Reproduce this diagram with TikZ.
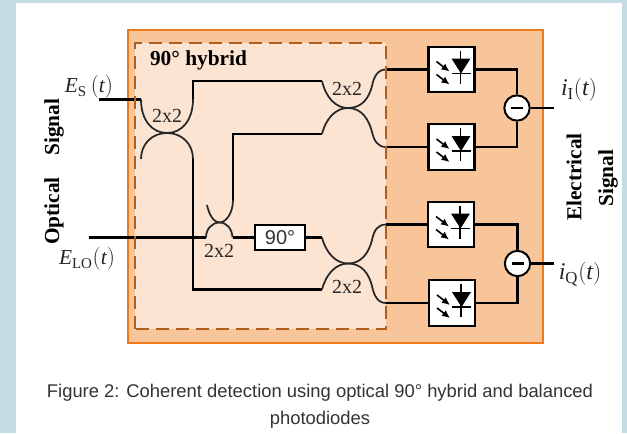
\documentclass[tikz,border=0pt]{standalone}
\usepackage{fontspec}
\setmainfont{Liberation Serif}
\newfontfamily\capfont{Liberation Sans}
\usetikzlibrary{arrows.meta}
\definecolor{bgblue}{HTML}{C5DBE3}
\definecolor{outerfill}{HTML}{F8C49A}
\definecolor{outerline}{HTML}{EE7A1C}
\definecolor{innerfill}{HTML}{FCE4D3}
\definecolor{innerline}{HTML}{B05E1E}
\tikzset{
  x=0.75pt,y=-0.75pt,
  fiber/.style={draw=black,line width=1.7pt},
  coupler/.style={draw=black!85,line width=1.3pt},
  detbox/.style={draw=black,fill=white,line width=1.7pt,minimum width=34.5pt,minimum height=34pt,inner sep=0pt},
  shifter/.style={draw=black,fill=white,line width=1.7pt,minimum width=38pt,minimum height=19pt,inner sep=0pt,font=\capfont\fontsize{15}{16}\selectfont,text=black!80},
  subtractor/.style={circle,draw=black,fill=white,line width=1.5pt,minimum size=19pt,inner sep=0pt},
  lab/.style={inner sep=0pt,font=\fontsize{15}{16}\selectfont,text=black!85},
  mathlab/.style={inner sep=0pt,font=\fontsize{16}{18}\selectfont,text=black!85},
  bigmath/.style={inner sep=0pt,font=\fontsize{18}{20}\selectfont,text=black!85},
  side/.style={inner sep=0pt,rotate=90,font=\bfseries\fontsize{16}{18}\selectfont},
  caption/.style={inner sep=0pt,font=\capfont\fontsize{13.8}{15}\selectfont,text=black!80},
}
\newcommand{\detsym}[1]{%
  \begin{scope}[shift={(#1)}]
    \draw[black,line width=1.3pt] (9,-19) -- (9,14);
    \draw[black,line width=1.3pt] (0,4) -- (19,4);
    \fill[black] (0,-11) -- (19,-11) -- (9.5,4) -- cycle;
    \draw[black,line width=1.2pt,-{Latex[length=6pt,width=5.5pt]}] (-15,-8) -- (-2,2);
    \draw[black,line width=1.2pt,-{Latex[length=6pt,width=5.5pt]}] (-15,5) -- (-2,15);
  \end{scope}}
\begin{document}
\begin{tikzpicture}
\useasboundingbox (0,0) rectangle (627,433);
\fill[bgblue] (0,0) rectangle (627,433);
\fill[white] (16,3) rectangle (622,433);
% enclosures
\draw[draw=outerline,fill=outerfill,line width=1.5pt] (128,30) rectangle (543,343);
\fill[innerfill] (135,43) rectangle (386,329);
% couplers ports
\coordinate (sin) at (99,99.5);
\coordinate (c1tl) at (141,99.5);
\coordinate (c1tr) at (193,81);
\coordinate (c1br) at (193,289.5);
\coordinate (c2a) at (322,81);
\coordinate (c2b) at (322,134);
\coordinate (c3tl) at (233,134);
\coordinate (loin) at (89,237.5);
\coordinate (c4a) at (322,237.5);
\coordinate (c4b) at (322,289.5);
\node[detbox] (d1) at (451.5,69.5) {};
\node[detbox] (d2) at (451.5,147) {};
\node[detbox] (d3) at (451,224.5) {};
\node[detbox] (d4) at (452,303) {};
\node[shifter] (ps) at (280,237.5) {90°};
\node[subtractor] (s1) at (517,108) {};
\node[subtractor] (s2) at (517.5,263.5) {};
\coordinate (o1) at (554,108);
\coordinate (o2) at (554,263.5);
% wiring
\draw[fiber] (sin) -- (c1tl);
\draw[coupler] (c1tl) .. controls (141,120) and (152,133) .. (167,133) .. controls (182,133) and (193,120) .. (193,99);
\draw[fiber] (193,99) -- (c1tr) -- (c2a);
\draw[coupler] (141,159) .. controls (141,144) and (152,133) .. (167,133) .. controls (182,133) and (193,144) .. (193,159);
\draw[fiber] (193,159) -- (c1br) -- (c4b);
\draw[fiber] (c2b) -- (c3tl) -- (233,200);
\draw[coupler] (207,205) .. controls (209,215) and (214,222.5) .. (219.5,222.5) .. controls (226,222.5) and (233,213) .. (233,200);
\draw[fiber] (loin) -- (206,237.5);
\draw[coupler] (206,237.5) .. controls (206,229) and (212,222.5) .. (219.5,222.5) .. controls (227,222.5) and (232,229) .. (232.5,237.5);
\draw[fiber] (232.5,237.5) -- (ps.west);
\draw[fiber] (ps.east) -- (c4a);
% right couplers
\draw[coupler] (c2a) .. controls (326,98) and (336,108) .. (348,108) .. controls (362,108) and (369,98) .. (372,86) .. controls (374,76) and (378,69.5) .. (386,69.5);
\draw[coupler] (c2b) .. controls (326,118) and (336,108) .. (348,108) .. controls (362,108) and (369,120) .. (372,132) .. controls (374,141) and (378,147) .. (386,147);
\draw[coupler] (c4a) .. controls (326,253) and (336,263.5) .. (348,263.5) .. controls (362,263.5) and (369,252) .. (372,240) .. controls (374,230) and (378,224.5) .. (386,224.5);
\draw[coupler] (c4b) .. controls (326,274) and (336,263.5) .. (348,263.5) .. controls (362,263.5) and (369,274) .. (372,286) .. controls (374,296) and (378,303) .. (386,303);
\draw[fiber] (386,69.5) -- (d1.west);
\draw[fiber] (386,147) -- (d2.west);
\draw[fiber] (386,224.5) -- (d3.west);
\draw[fiber] (386,303) -- (d4.west);
\draw[fiber] (d1.east) -- (s1.north |- d1.east) -- (s1.north);
\draw[fiber] (d2.east) -- (s1.south |- d2.east) -- (s1.south);
\draw[fiber] (d3.east) -- (s2.north |- d3.east) -- (s2.north);
\draw[fiber] (d4.east) -- (s2.south |- d4.east) -- (s2.south);
\draw[fiber] (s1.east) -- (o1);
\draw[fiber] (s2.east) -- (o2);
\draw[innerline,line width=1.6pt,dash pattern=on 10pt off 5pt] (135,329) -- (135,43) -- (386,43) -- (386,329) -- cycle;
% symbols
\detsym{d1.center}
\detsym{d2.center}
\detsym{d3.center}
\detsym{d4.center}
\draw[black,line width=1.8pt] (511,108) -- (523,108);
\draw[black,line width=1.8pt] (511.5,263.5) -- (523.5,263.5);
% labels
\node[inner sep=0pt,font=\bfseries\fontsize{16}{18}\selectfont] (title) at (198.5,60) {90° hybrid};
\node[lab] (l1) at (167,116) {2x2};
\node[lab] (l2) at (347,89) {2x2};
\node[lab] (l3) at (219,251) {2x2};
\node[lab] (l4) at (347,287) {2x2};
\node[mathlab] (es) at (89,87) {$\mathit{E}_{\mathrm{S}}\,(\mathit{t})$};
\node[mathlab] (elo) at (87,259) {$\mathit{E}_{\mathrm{LO}}(\mathit{t})$};
\node[bigmath] (ii) at (579,90) {$\mathit{i}_{\mathrm{I}}(\mathit{t})$};
\node[bigmath] (iq) at (580,274) {$\mathit{i}_{\mathrm{Q}}(\mathit{t})$};
\node[side] (sa) at (54,127) {Signal};
\node[side] (sb) at (54,211) {Optical};
\node[side] (sc) at (574,177) {Electrical};
\node[side] (sd) at (608,178) {Signal};
\node[caption] (cap1) at (320,393) {Figure 2: Coherent detection using optical 90° hybrid and balanced};
\node[caption] (cap2) at (320,420) {photodiodes};
\end{tikzpicture}
\end{document}
